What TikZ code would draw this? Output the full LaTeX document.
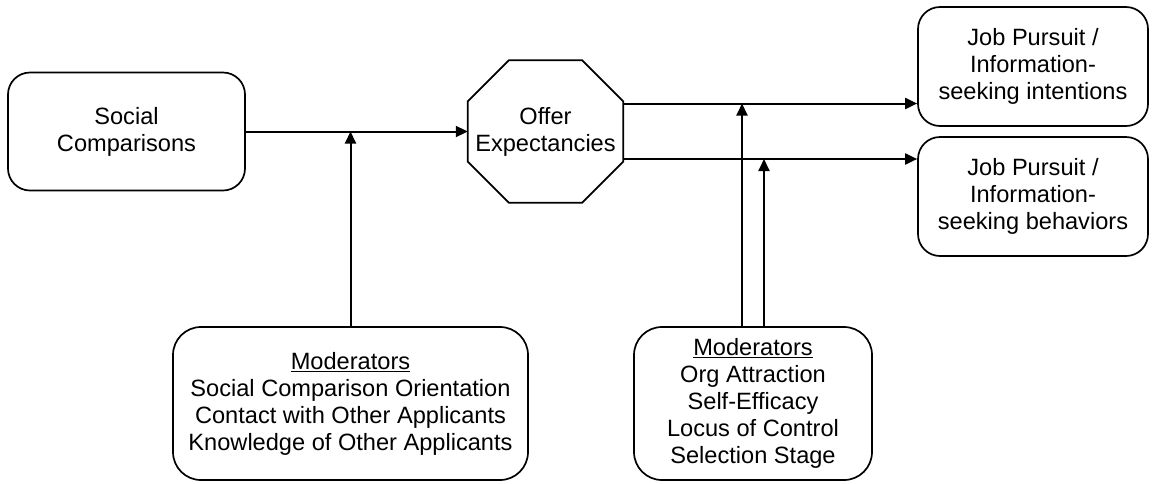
\documentclass[tikz,border=0pt]{standalone}
\usepackage{fontspec}
\setmainfont{Liberation Sans}
\usetikzlibrary{arrows.meta,calc}
\begin{document}
\begin{tikzpicture}[x=1pt,y=-1pt,
  every node/.style={font=\fontsize{23.6pt}{27pt}\selectfont, align=center, inner sep=0pt},
  box/.style={draw, line width=1.7pt, rounded corners=22pt},
  modbox/.style={draw, line width=1.7pt, rounded corners=28pt},
  octline/.style={line width=1.7pt, line join=miter},
  link/.style={line width=2pt, -{Triangle[length=12pt,width=11pt]}}]
\useasboundingbox (0,0) rectangle (1152,483);

% main boxes
\node[box, minimum width=237pt, minimum height=118pt] (soc) at (126.5,131.5) {Social\\Comparisons};
\node[minimum width=155pt, minimum height=142pt] (oct) at (545.5,131.5) {Offer\\Expectancies};
\draw[octline]
  ($(oct.north west)+(41,0)$) -- ($(oct.north east)+(-41,0)$) --
  ($(oct.north east)+(0,41)$) -- ($(oct.south east)+(0,-41)$) --
  ($(oct.south east)+(-41,0)$) -- ($(oct.south west)+(41,0)$) --
  ($(oct.south west)+(0,-41)$) -- ($(oct.north west)+(0,41)$) -- cycle;
\node[box, minimum width=230pt, minimum height=119pt] (jp1) at (1033,66.5)
  {Job Pursuit /\\Information-\\seeking intentions};
\node[box, minimum width=230pt, minimum height=119pt] (jp2) at (1033,196.5)
  {Job Pursuit /\\Information-\\seeking behaviors};

% moderator boxes
\node[modbox, minimum width=355pt, minimum height=153pt] (modL) at (350.5,403.5)
  {\underline{Moderators}\\Social Comparison Orientation\\Contact with Other Applicants\\Knowledge of Other Applicants};
\node[modbox, minimum width=238pt, minimum height=153pt] (modR) at (753,403.5)
  {\underline{Moderators}\\Org Attraction\\Self-Efficacy\\Locus of Control\\Selection Stage};

% connectors
\draw[link] (soc.east) -- (oct.west);
\coordinate (r1) at ($(oct.east)+(0,-28)$);
\coordinate (r2) at ($(oct.east)+(0,27.5)$);
\draw[link] (r1) -- (r1 -| jp1.west);
\draw[link] (r2) -- (r2 -| jp2.west);
\draw[link] (modL.north) -- (modL.north |- soc.east);
\draw[link] ([xshift=-11pt]modR.north) -- ([xshift=-11pt]modR.north |- r1);
\draw[link] ([xshift=11pt]modR.north) -- ([xshift=11pt]modR.north |- r2);
\end{tikzpicture}
\end{document}
